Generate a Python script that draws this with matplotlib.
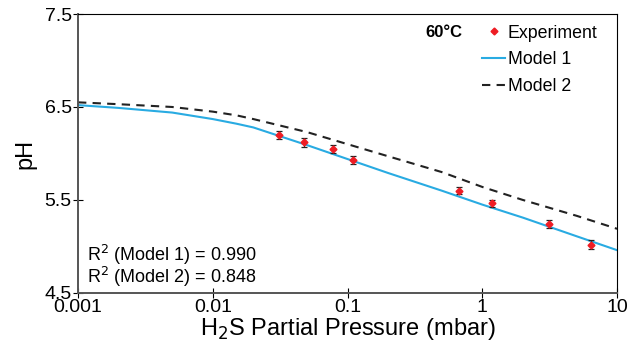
import matplotlib.pyplot as plt
from matplotlib.lines import Line2D
import numpy as np

plt.rcParams['font.family'] = ['Liberation Sans', 'DejaVu Sans']

# experimental points
p_exp = [0.031, 0.0475, 0.078, 0.11, 0.67, 1.18, 3.13, 6.4]
ph_exp = [6.20, 6.12, 6.05, 5.93, 5.60, 5.465, 5.24, 5.02]
ph_err = [0.045, 0.045, 0.045, 0.045, 0.04, 0.04, 0.045, 0.045]

# model curves
p_model = [0.001, 0.002, 0.005, 0.01, 0.015, 0.02, 0.05, 0.1, 0.2, 0.5, 1, 2, 5, 10]
ph_model1 = [6.52, 6.49, 6.44, 6.37, 6.32, 6.28, 6.09, 5.94, 5.79, 5.60, 5.45, 5.31, 5.11, 4.96]
ph_model2 = [6.55, 6.53, 6.50, 6.45, 6.41, 6.37, 6.23, 6.10, 5.97, 5.80, 5.64, 5.50, 5.33, 5.19]

fig = plt.figure(figsize=(6.41, 3.5), dpi=100)
ax = fig.add_axes([0.1217, 0.163, 0.841, 0.797])

m1, = ax.plot(p_model, ph_model1, color='#29abe2', lw=1.5, label='Model 1')
m2, = ax.plot(p_model, ph_model2, color='#222222', lw=1.5, ls=(0, (4, 3)), label='Model 2')
ax.errorbar(p_exp, ph_exp, yerr=ph_err, fmt='D', color='#ee1c24', ms=3.5,
            ecolor='#222222', elinewidth=0.9, capsize=2, capthick=0.9, zorder=5)

ax.set_xscale('log')
ax.set_xlim(0.001, 10)
ax.set_ylim(4.5, 7.5)
ax.set_xticks([0.001, 0.01, 0.1, 1, 10])
ax.set_xticklabels(['0.001', '0.01', '0.1', '1', '10'])
ax.set_yticks([4.5, 5.5, 6.5, 7.5])
ax.set_yticklabels(['4.5', '5.5', '6.5', '7.5'])
ax.minorticks_off()
ax.tick_params(direction='inout', length=7, width=0.8, labelsize=14, pad=1)
ax.set_xlabel('H$_2$S Partial Pressure (mbar)', fontsize=17, labelpad=0)
ax.set_ylabel('pH', fontsize=17, labelpad=6)

for s in ['left', 'bottom']:
    ax.spines[s].set_linewidth(1.4)
    ax.spines[s].set_color('#555555')

exp_handle = Line2D([], [], ls='none', marker='D', color='#ee1c24', ms=3.5)
ax.legend([exp_handle, m1, m2], ['Experiment', 'Model 1', 'Model 2'], loc='upper left',
          bbox_to_anchor=(0.73, 1.0), frameon=False, fontsize=12.8, handlelength=1.3,
          handletextpad=0.15, labelspacing=0.55, borderaxespad=0.2)

ax.text(0.713, 0.935, '60°C', transform=ax.transAxes, fontsize=12, fontweight='bold',
        ha='right', va='center')
ax.text(0.017, 0.138, 'R$^2$ (Model 1) = 0.990', transform=ax.transAxes, fontsize=13, va='center')
ax.text(0.017, 0.058, 'R$^2$ (Model 2) = 0.848', transform=ax.transAxes, fontsize=13, va='center')

fig.savefig('out.png', dpi=100)
